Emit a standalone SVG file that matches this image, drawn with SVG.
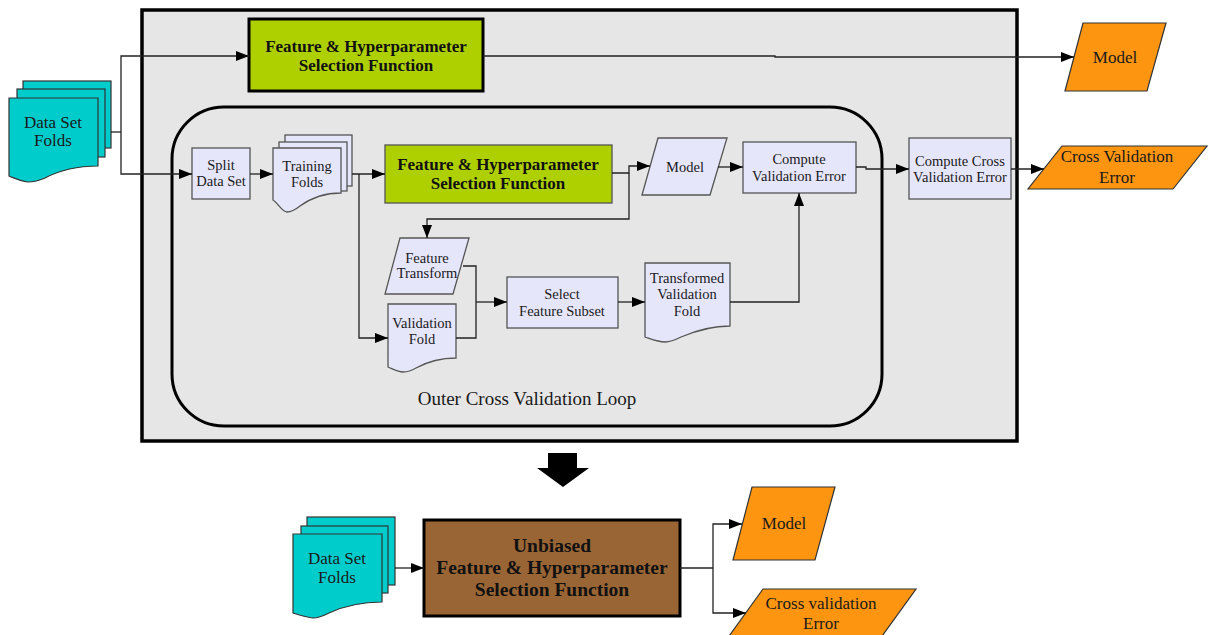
<svg xmlns="http://www.w3.org/2000/svg" width="1209" height="635" viewBox="0 0 1209 635">
<defs>
<marker id="ah" markerUnits="userSpaceOnUse" markerWidth="14" markerHeight="12" viewBox="0 0 14 12" refX="13" refY="6" orient="auto">
<path d="M0,1 L13,6 L0,11 Z" fill="#000"/>
</marker>
<style>
.t{font-family:"Liberation Serif","DejaVu Serif",serif;fill:#1a1a1a;text-anchor:middle}
.b{font-weight:bold;fill:#111}
.lav{fill:#e6e6fb;stroke:#555;stroke-width:1.3}
.teal{fill:#00cccc;stroke:#333;stroke-width:1.2}
.org{fill:#fd9510;stroke:#333;stroke-width:1.2}
.grn{fill:#afd000}
.c{fill:none;stroke:#222;stroke-width:1.3}
</style>
</defs>
<rect width="1209" height="635" fill="#fff"/>

<g id="outer-box">
<rect x="142" y="10" width="875" height="431" fill="#e6e6e6" stroke="#000" stroke-width="3.5"/>
</g>
<g id="inner-loop">
<rect x="172" y="107" width="710" height="319" rx="52" ry="52" fill="#e6e6e6" stroke="#000" stroke-width="3"/>
<text class="t" x="527" y="405" font-size="19">Outer Cross Validation Loop</text>
</g>

<g id="data-set-folds-top">
<rect class="teal" x="23" y="81" width="88" height="67"/>
<rect class="teal" x="17" y="89" width="88" height="68"/>
<path class="teal" d="M9,98 H98 V166 C80,166 60,170 45,178 C38,181 33,182 28,182 C20,181 14,178 9,176 Z"/>
<text class="t" x="53" y="128" font-size="17">Data Set</text>
<text class="t" x="53" y="146" font-size="17">Folds</text>
</g>

<g id="feature-top">
<rect class="grn" x="249" y="19" width="234" height="72" stroke="#000" stroke-width="3"/>
<text class="t b" x="366" y="52" font-size="17">Feature &amp; Hyperparameter</text>
<text class="t b" x="366" y="71" font-size="17">Selection Function</text>
</g>

<g id="model-top">
<polygon class="org" points="1083,23 1166,23 1147,91 1065,91"/>
<text class="t" x="1115" y="63" font-size="17">Model</text>
</g>

<g id="split">
<rect class="lav" x="192" y="148" width="58" height="51"/>
<text class="t" x="221" y="170" font-size="14.5">Split</text>
<text class="t" x="221" y="186" font-size="14.5">Data Set</text>
</g>

<g id="training-folds">
<rect class="lav" x="285" y="135" width="67" height="51"/>
<rect class="lav" x="279" y="142" width="68" height="49"/>
<path class="lav" d="M273,148 H341 V193 C326,193 311,198 300,206 C295,210 291,212 287,212 C282,212 277,202 273,200 Z"/>
<text class="t" x="307" y="171" font-size="14.5">Training</text>
<text class="t" x="307" y="187" font-size="14.5">Folds</text>
</g>

<g id="feature-mid">
<rect class="grn" x="385" y="145" width="227" height="58" stroke="#555" stroke-width="1.3"/>
<text class="t b" x="498" y="170" font-size="17">Feature &amp; Hyperparameter</text>
<text class="t b" x="498" y="189" font-size="17">Selection Function</text>
</g>

<g id="model-mid">
<polygon class="lav" points="658,138 727,138 710,195 642,195"/>
<text class="t" x="685" y="172" font-size="14.5">Model</text>
</g>

<g id="compute-val-error">
<rect class="lav" x="743" y="142" width="113" height="51"/>
<text class="t" x="799" y="164" font-size="14.5">Compute</text>
<text class="t" x="799" y="181" font-size="14.5">Validation Error</text>
</g>

<g id="compute-cv-error">
<rect class="lav" x="909" y="138" width="102" height="61"/>
<text class="t" x="960" y="166" font-size="14.5">Compute Cross</text>
<text class="t" x="960" y="182" font-size="14.5">Validation Error</text>
</g>

<g id="cv-error-out">
<polygon class="org" points="1062,146 1207,146 1173,189 1028,189"/>
<text class="t" x="1117" y="162" font-size="17">Cross Validation</text>
<text class="t" x="1117" y="183" font-size="17">Error</text>
</g>

<g id="feature-transform">
<polygon class="lav" points="400,238 469,238 453,294 385,294"/>
<text class="t" x="427" y="263" font-size="14.5">Feature</text>
<text class="t" x="427" y="278" font-size="14.5">Transform</text>
</g>

<g id="validation-fold">
<path class="lav" d="M388,304 H456 V358 C441,358 427,362 416,368 C411,371 407,372 403,372 C398,372 393,369 388,367 Z"/>
<text class="t" x="422" y="328" font-size="14.5">Validation</text>
<text class="t" x="422" y="344" font-size="14.5">Fold</text>
</g>

<g id="select-subset">
<rect class="lav" x="507" y="277" width="111" height="51"/>
<text class="t" x="562" y="299" font-size="14.5">Select</text>
<text class="t" x="562" y="316" font-size="14.5">Feature Subset</text>
</g>

<g id="transformed-fold">
<path class="lav" d="M645,263 H730 V326 C712,326 695,331 681,337 C675,340 670,342 665,342 C658,342 651,339 645,337 Z"/>
<text class="t" x="687" y="283" font-size="14.5">Transformed</text>
<text class="t" x="687" y="299" font-size="14.5">Validation</text>
<text class="t" x="687" y="316" font-size="14.5">Fold</text>
</g>

<g id="big-arrow">
<polygon points="548,453 577,453 577,468 589,468 563,487 537,468 548,468" fill="#000"/>
</g>

<g id="data-set-folds-bottom">
<rect class="teal" x="307" y="517" width="88" height="68"/>
<rect class="teal" x="301" y="526" width="87" height="67"/>
<path class="teal" d="M293,534 H382 V602 C364,602 344,606 329,613 C323,616 318,618 313,618 C305,617 299,615 293,613 Z"/>
<text class="t" x="337" y="564" font-size="17">Data Set</text>
<text class="t" x="337" y="583" font-size="17">Folds</text>
</g>

<g id="unbiased">
<rect x="424" y="520" width="256" height="96" fill="#9a6535" stroke="#000" stroke-width="3"/>
<text class="t b" x="552" y="552" font-size="19.5">Unbiased</text>
<text class="t b" x="552" y="574" font-size="19.5">Feature &amp; Hyperparameter</text>
<text class="t b" x="552" y="596" font-size="19.5">Selection Function</text>
</g>

<g id="model-bottom">
<polygon class="org" points="752,487 835,487 815,560 733,560"/>
<text class="t" x="784" y="529" font-size="17">Model</text>
</g>

<g id="cv-error-bottom">
<polygon class="org" points="763,589 916,589 872,650 719,650"/>
<text class="t" x="821" y="609" font-size="17">Cross validation</text>
<text class="t" x="821" y="629" font-size="17">Error</text>
</g>

<g id="connectors">
<path class="c" d="M111,132 H121"/>
<path class="c" d="M121,132 V56 H249" marker-end="url(#ah)"/>
<path class="c" d="M121,132 V174 H192" marker-end="url(#ah)"/>
<path class="c" d="M483,56 H775 V57 H1074" marker-end="url(#ah)"/>
<path class="c" d="M250,174 H273" marker-end="url(#ah)"/>
<path class="c" d="M352,174 H385" marker-end="url(#ah)"/>
<path class="c" d="M359,174 V338 H388" marker-end="url(#ah)"/>
<path class="c" d="M612,173 H629 V166 H650" marker-end="url(#ah)"/>
<path class="c" d="M629,173 V219 H427 V238" marker-end="url(#ah)"/>
<path class="c" d="M718,167 H743" marker-end="url(#ah)"/>
<path class="c" d="M856,167 H866 V169 H909" marker-end="url(#ah)"/>
<path class="c" d="M1011,169 H1044" marker-end="url(#ah)"/>
<path class="c" d="M463,266 H476 V338 H456"/>
<path class="c" d="M476,302 H507" marker-end="url(#ah)"/>
<path class="c" d="M618,302 H645" marker-end="url(#ah)"/>
<path class="c" d="M730,302 H799 V193" marker-end="url(#ah)"/>
<path class="c" d="M395,568 H424" marker-end="url(#ah)"/>
<path class="c" d="M680,568 H713"/>
<path class="c" d="M713,568 V524 H742" marker-end="url(#ah)"/>
<path class="c" d="M713,568 V613 H746" marker-end="url(#ah)"/>
</g>
</svg>
